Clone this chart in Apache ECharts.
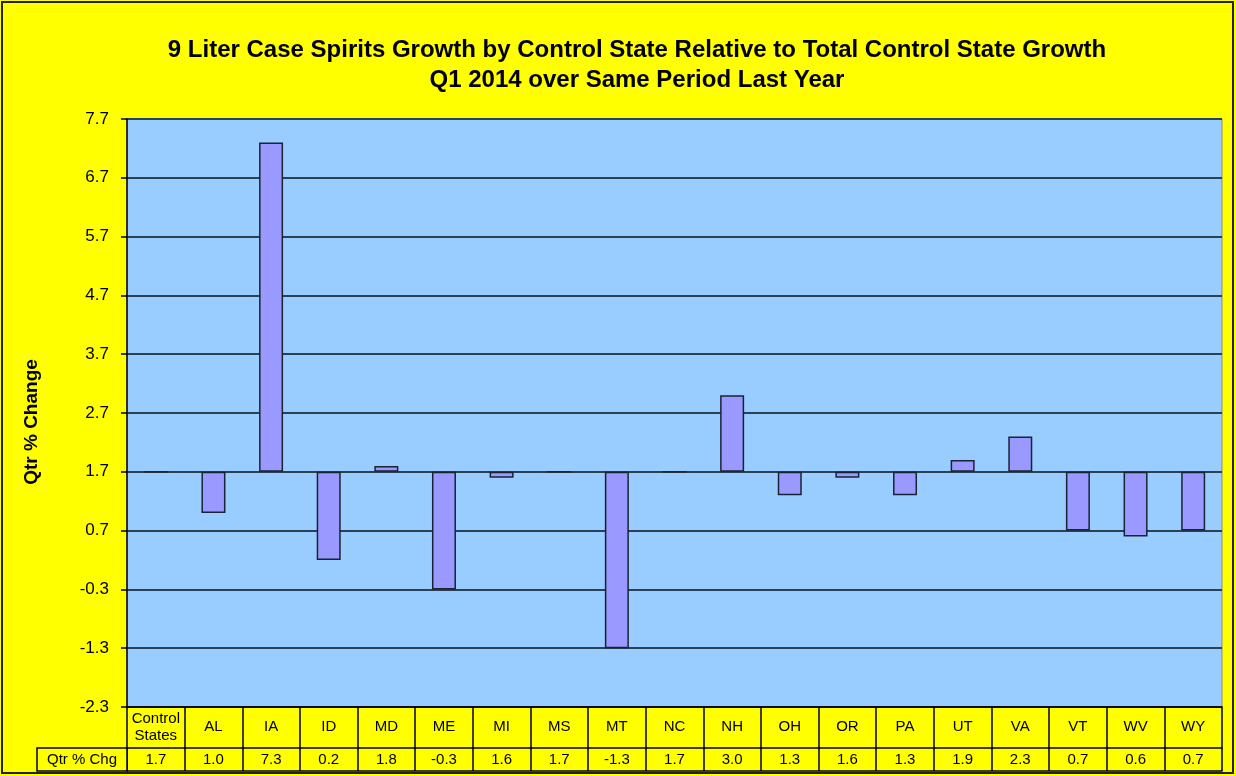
<!DOCTYPE html>
<html>
<head>
<meta charset="utf-8">
<script src="https://cdn.jsdelivr.net/npm/echarts@6/dist/echarts.min.js"></script>
<style>
  html, body { margin: 0; padding: 0; background: #ffff00; }
  #chart { width: 1236px; height: 776px; }
</style>
</head>
<body>
<div id="chart"></div>
<script>
var states = ['Control\nStates', 'AL', 'IA', 'ID', 'MD', 'ME', 'MI', 'MS', 'MT', 'NC',
  'NH', 'OH', 'OR', 'PA', 'UT', 'VA', 'VT', 'WV', 'WY']
var qtrChange = [1.7, 1.0, 7.3, 0.2, 1.8, -0.3, 1.6, 1.7, -1.3, 1.7,
  3.0, 1.3, 1.6, 1.3, 1.9, 2.3, 0.7, 0.6, 0.7]
// bars grow from the total control state growth
var baseline = 1.7
var yMin = -2.3
var yMax = 7.7

var font = 'Liberation Sans, Arial, sans-serif'
var gridLeft = 127
var gridRight = 14
var gridTop = 119
var gridBottom = 69

// the value axis is shifted so the bars start at the baseline
var delta = qtrChange.map(function (v) { return +(v - baseline).toFixed(2) })

var chart = echarts.init(document.getElementById('chart'))
var option = {
  backgroundColor: '#ffff00',
  animation: false,
  title: {
    text: '9 Liter Case Spirits Growth by Control State Relative to Total Control State Growth\nQ1 2014 over Same Period Last Year',
    left: 632,
    top: 30,
    textAlign: 'center',
    textStyle: {
      fontFamily: font,
      fontSize: 24,
      fontWeight: 'bold',
      color: '#000',
      lineHeight: 30
    }
  },
  grid: {
    left: gridLeft,
    right: gridRight,
    top: gridTop,
    bottom: gridBottom,
    show: true,
    backgroundColor: '#99ccff',
    borderColor: '#8a8a8a',
    borderWidth: 1
  },
  xAxis: [
    {
      type: 'category',
      data: states,
      position: 'bottom',
      axisLine: { show: true, onZero: false, lineStyle: { color: '#000', width: 1.5 } },
      axisTick: { show: true, interval: 0, length: 64, lineStyle: { color: '#000', width: 1.5 } },
      axisLabel: {
        interval: 0,
        margin: 20,
        verticalAlign: 'middle',
        fontFamily: font,
        fontSize: 15,
        lineHeight: 17,
        color: '#000'
      },
      splitLine: { show: false }
    },
    {
      type: 'category',
      data: states,
      position: 'bottom',
      offset: 41,
      axisLine: { show: true, onZero: false, lineStyle: { color: '#000', width: 1.5 } },
      axisTick: { show: false },
      axisLabel: {
        interval: 0,
        margin: 12,
        verticalAlign: 'middle',
        fontFamily: font,
        fontSize: 15,
        color: '#000',
        formatter: function (val, idx) { return qtrChange[idx].toFixed(1) }
      }
    },
    {
      type: 'category',
      data: states,
      position: 'bottom',
      offset: 64,
      axisLine: { show: true, onZero: false, lineStyle: { color: '#000', width: 1.5 } },
      axisTick: { show: false },
      axisLabel: { show: false }
    }
  ],
  yAxis: {
    type: 'value',
    min: yMin - baseline,
    max: yMax - baseline,
    interval: 1,
    axisLine: { show: true, lineStyle: { color: '#000', width: 1.5 } },
    axisTick: { show: true, length: 6, lineStyle: { color: '#000', width: 1.5 } },
    axisLabel: {
      margin: 18,
      fontFamily: font,
      fontSize: 17,
      color: '#000',
      formatter: function (v) { return (v + baseline).toFixed(1) }
    },
    splitLine: { show: true, lineStyle: { color: '#2b3f55', width: 2 } }
  },
  series: [
    {
      type: 'bar',
      xAxisIndex: 0,
      data: delta,
      barWidth: 24,
      itemStyle: {
        color: '#9999ff',
        borderColor: '#1a2333',
        borderWidth: 1.5
      }
    }
  ],
  graphic: [
    {
      type: 'text',
      x: 32,
      y: 422,
      rotation: Math.PI / 2,
      style: {
        text: 'Qtr % Change',
        fontFamily: font,
        fontSize: 19,
        fontWeight: 'bold',
        fill: '#000',
        align: 'center',
        verticalAlign: 'middle'
      }
    },
    {
      type: 'rect',
      shape: { x: 37, y: 776 - gridBottom + 41, width: gridLeft - 37, height: 23 },
      style: { fill: '#ffff00', stroke: '#000', lineWidth: 1.5 },
      z: 10
    },
    {
      type: 'text',
      x: (37 + gridLeft) / 2,
      y: 776 - gridBottom + 41 + 12,
      style: {
        text: 'Qtr % Chg',
        fontFamily: font,
        fontSize: 15,
        fill: '#000',
        align: 'center',
        verticalAlign: 'middle'
      },
      z: 11
    },
    {
      type: 'rect',
      shape: { x: 2, y: 2, width: 1231, height: 771 },
      style: { fill: 'none', stroke: '#222', lineWidth: 2 },
      z: 20
    }
  ]
}
chart.setOption(option)
</script>
</body>
</html>
